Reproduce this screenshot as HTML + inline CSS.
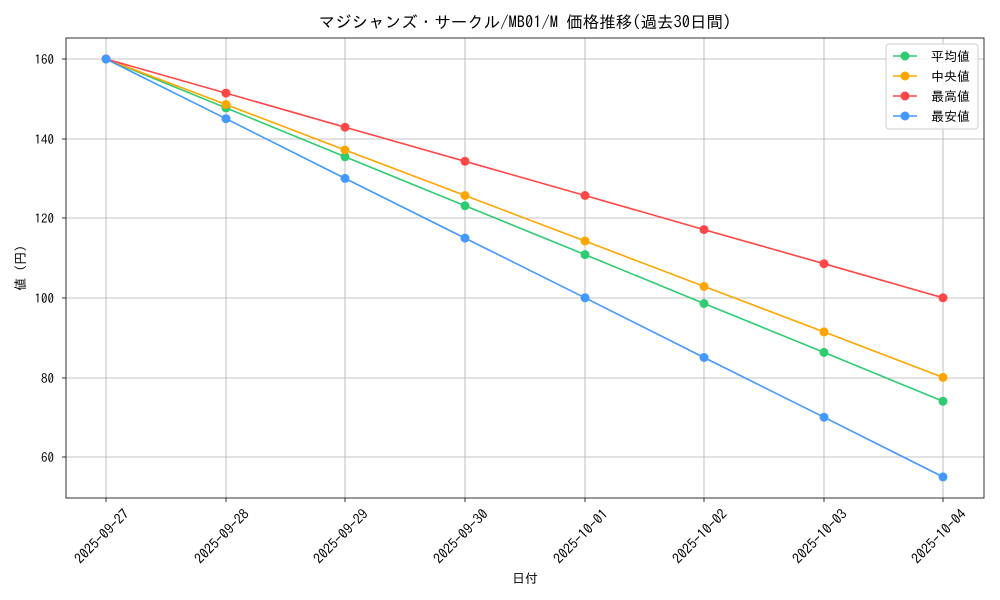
<!DOCTYPE html>
<html><head><meta charset="utf-8"><style>
html,body{margin:0;padding:0;background:#fff}
svg{display:block}
text{font-family:"IPAGothic","Noto Sans CJK JP","Liberation Sans",sans-serif;fill:#000}
</style></head><body>
<svg width="1000" height="600" viewBox="0 0 1000 600" xmlns="http://www.w3.org/2000/svg">
<rect width="1000" height="600" fill="#fff"/>
<text x="525" y="28" font-size="16.5" text-anchor="middle">マジシャンズ・サークル/MB01/M 価格推移(過去30日間)</text>
<g stroke="#b0b0b0" stroke-width="0.8">
<line x1="106" y1="38" x2="106" y2="498"/><line x1="226" y1="38" x2="226" y2="498"/><line x1="345" y1="38" x2="345" y2="498"/><line x1="465" y1="38" x2="465" y2="498"/><line x1="585" y1="38" x2="585" y2="498"/><line x1="704" y1="38" x2="704" y2="498"/><line x1="824" y1="38" x2="824" y2="498"/><line x1="943" y1="38" x2="943" y2="498"/>
<line x1="66" y1="59" x2="984" y2="59"/><line x1="66" y1="139" x2="984" y2="139"/><line x1="66" y1="218" x2="984" y2="218"/><line x1="66" y1="298" x2="984" y2="298"/><line x1="66" y1="378" x2="984" y2="378"/><line x1="66" y1="457" x2="984" y2="457"/>
</g>
<rect x="66" y="38" width="918" height="460" fill="none" stroke="#000" stroke-width="0.8"/>
<g stroke="#000" stroke-width="0.8">
<line x1="62" y1="59" x2="66" y2="59"/><line x1="62" y1="139" x2="66" y2="139"/><line x1="62" y1="218" x2="66" y2="218"/><line x1="62" y1="298" x2="66" y2="298"/><line x1="62" y1="378" x2="66" y2="378"/><line x1="62" y1="457" x2="66" y2="457"/>
<line x1="106" y1="498" x2="106" y2="502"/><line x1="226" y1="498" x2="226" y2="502"/><line x1="345" y1="498" x2="345" y2="502"/><line x1="465" y1="498" x2="465" y2="502"/><line x1="585" y1="498" x2="585" y2="502"/><line x1="704" y1="498" x2="704" y2="502"/><line x1="824" y1="498" x2="824" y2="502"/><line x1="943" y1="498" x2="943" y2="502"/>
</g>
<g font-size="13" text-anchor="end">
<text x="54" y="64">160</text><text x="54" y="144">140</text><text x="54" y="223">120</text><text x="54" y="303">100</text><text x="54" y="383">80</text><text x="54" y="462">60</text>
</g>
<g font-size="14" text-anchor="end">
<text transform="translate(130,515) rotate(-45)">2025-09-27</text>
<text transform="translate(250,515) rotate(-45)">2025-09-28</text>
<text transform="translate(369,515) rotate(-45)">2025-09-29</text>
<text transform="translate(489,515) rotate(-45)">2025-09-30</text>
<text transform="translate(609,515) rotate(-45)">2025-10-01</text>
<text transform="translate(728,515) rotate(-45)">2025-10-02</text>
<text transform="translate(848,515) rotate(-45)">2025-10-03</text>
<text transform="translate(967,515) rotate(-45)">2025-10-04</text>
</g>
<text x="525" y="583" font-size="13" text-anchor="middle">日付</text>
<text transform="translate(25,268) rotate(-90)" font-size="13" text-anchor="middle">値 (円)</text>
<g fill="none" stroke-width="1.6">
<polyline stroke="#2ecc71" points="106,59 226,107.9 345,156.8 465,205.7 585,254.6 704,303.5 824,352.4 943,401.3"/>
<polyline stroke="#ffa500" points="106,59 226,104.5 345,150 465,195.5 585,241 704,286.4 824,331.9 943,377.4"/>
<polyline stroke="#ff4747" points="106,59 226,93.1 345,127.2 465,161.3 585,195.5 704,229.6 824,263.7 943,297.8"/>
<polyline stroke="#4499ff" points="106,59 226,118.7 345,178.4 465,238.1 585,297.8 704,357.5 824,417.2 943,476.9"/>
</g>
<g fill="#2ecc71"><circle cx="106" cy="59" r="4.5"/><circle cx="226" cy="107.9" r="4.5"/><circle cx="345" cy="156.8" r="4.5"/><circle cx="465" cy="205.7" r="4.5"/><circle cx="585" cy="254.6" r="4.5"/><circle cx="704" cy="303.5" r="4.5"/><circle cx="824" cy="352.4" r="4.5"/><circle cx="943" cy="401.3" r="4.5"/></g>
<g fill="#ffa500"><circle cx="106" cy="59" r="4.5"/><circle cx="226" cy="104.5" r="4.5"/><circle cx="345" cy="150" r="4.5"/><circle cx="465" cy="195.5" r="4.5"/><circle cx="585" cy="241" r="4.5"/><circle cx="704" cy="286.4" r="4.5"/><circle cx="824" cy="331.9" r="4.5"/><circle cx="943" cy="377.4" r="4.5"/></g>
<g fill="#ff4747"><circle cx="106" cy="59" r="4.5"/><circle cx="226" cy="93.1" r="4.5"/><circle cx="345" cy="127.2" r="4.5"/><circle cx="465" cy="161.3" r="4.5"/><circle cx="585" cy="195.5" r="4.5"/><circle cx="704" cy="229.6" r="4.5"/><circle cx="824" cy="263.7" r="4.5"/><circle cx="943" cy="297.8" r="4.5"/></g>
<g fill="#4499ff"><circle cx="106" cy="59" r="4.5"/><circle cx="226" cy="118.7" r="4.5"/><circle cx="345" cy="178.4" r="4.5"/><circle cx="465" cy="238.1" r="4.5"/><circle cx="585" cy="297.8" r="4.5"/><circle cx="704" cy="357.5" r="4.5"/><circle cx="824" cy="417.2" r="4.5"/><circle cx="943" cy="476.9" r="4.5"/></g>
<rect x="886" y="44" width="92" height="85" rx="3" fill="#fff" fill-opacity="0.8" stroke="#ccc"/>
<g stroke-width="1.6">
<line x1="893" y1="56" x2="917" y2="56" stroke="#2ecc71"/><circle cx="905" cy="56" r="4.5" fill="#2ecc71"/>
<line x1="893" y1="76" x2="917" y2="76" stroke="#ffa500"/><circle cx="905" cy="76" r="4.5" fill="#ffa500"/>
<line x1="893" y1="96" x2="917" y2="96" stroke="#ff4747"/><circle cx="905" cy="96" r="4.5" fill="#ff4747"/>
<line x1="893" y1="116" x2="917" y2="116" stroke="#4499ff"/><circle cx="905" cy="116" r="4.5" fill="#4499ff"/>
</g>
<g font-size="13">
<text x="931" y="61">平均値</text><text x="931" y="81"> 中央値</text><text x="931" y="101">最高値</text><text x="931" y="121">最安値</text>
</g>
</svg>
</body></html>
